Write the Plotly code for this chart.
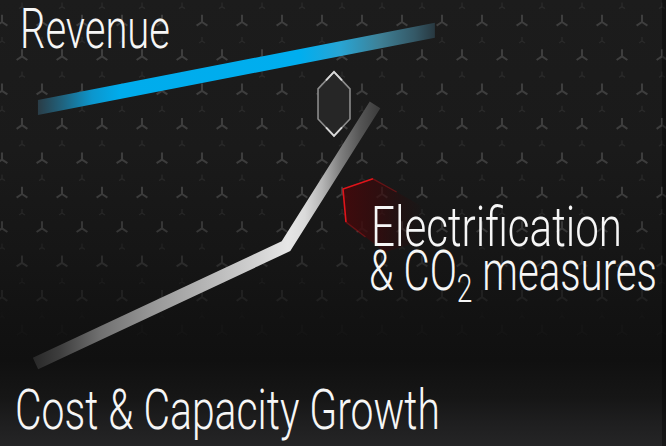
import numpy as np
import plotly.graph_objects as go

# Canvas and plotting space (0..100 on both axes, y pointing up)
W, H = 666, 446
SX, SY = W / 100.0, H / 100.0

# ---- series -------------------------------------------------------------
revenue_x = [5.7, 65.3]
revenue_y = [75.9, 93.2]

cost_x = [5.33, 42.94, 56.31]
cost_y = [18.5, 44.8, 76.5]

# gap marker between the two curves (centre, width, height)
gap_x, gap_y = 50.15, 76.7
gap_w, gap_h = 4.8, 14.35

# electrification wedge outline
wedge_x = [51.5, 56.0, 63.1, 63.8, 57.8, 51.95]
wedge_y = [57.6, 59.9, 54.0, 46.2, 43.5, 50.2]

label_revenue = "Revenue"
label_cost = "Cost &amp; Capacity Growth"
label_elec_1 = "Electrification"
label_elec_2 = "&amp; CO<sub>2</sub> measures"

FONT = "Roboto, Liberation Sans, sans-serif"


def to_px(x, y):
    return np.asarray(x, float) * SX, H - np.asarray(y, float) * SY


def to_data(px, py):
    return np.asarray(px, float) / SX, (H - np.asarray(py, float)) / SY


def scale_from(stops, lo, hi):
    """Colour stops given at pixel positions -> a 0..1 colorscale."""
    out = []
    for p, c in stops:
        f = min(1.0, max(0.0, (p - lo) / (hi - lo)))
        if out and f <= out[-1][0]:
            continue
        out.append([f, c])
    out[0][0] = 0.0
    out[-1][0] = 1.0
    return out


def band(xs, ys, width, vertical_ends=False):
    """Polygon of a thick polyline, computed in pixel space."""
    px, py = to_px(xs, ys)
    P = np.column_stack([px, py])
    d = np.diff(P, axis=0)
    d /= np.linalg.norm(d, axis=1)[:, None]
    nrm = np.column_stack([-d[:, 1], d[:, 0]])
    h = width / 2.0
    top, bot = [], []
    for i in range(len(P)):
        if vertical_ends:
            off = np.array([0.0, -h])
        elif i == 0:
            off = nrm[0] * h
        elif i == len(P) - 1:
            off = nrm[-1] * h
        else:
            m = nrm[i - 1] + nrm[i]
            m /= np.linalg.norm(m)
            off = m * h / np.dot(m, nrm[i])
        top.append(P[i] + off)
        bot.append(P[i] - off)
    poly = np.array(top + bot[::-1] + [top[0]])
    return to_data(poly[:, 0], poly[:, 1])


fig = go.Figure()

# ---- background -----------------------------------------------------------
bg_stops = [
    (446, "#252526"), (425, "#1f1f20"), (398, "#161616"), (360, "#101010"),
    (320, "#121212"), (250, "#161616"), (150, "#1a1a1a"), (0, "#1c1c1c"),
]
fig.add_trace(go.Scatter(
    x=[0, 100, 100, 0, 0], y=[0, 0, 100, 100, 0], mode="none", fill="toself",
    fillgradient=dict(type="vertical",
                      colorscale=scale_from([(H - p, c) for p, c in bg_stops], 0, H)),
    hoverinfo="skip"))

# star texture
big_x, big_y, big_c, sm_x, sm_y, sm_c = [], [], [], [], [], []


def fade(py):
    if py < 210:
        return 1.0
    return max(0.0, 1.0 - (py - 210) / 135.0)


for j in range(-1, 11):
    ry = 22 + 34.4 * j
    x0 = 2 if j % 2 == 0 else 22
    for k in range(-1, 18):
        rx = x0 + 40 * k
        a = fade(ry)
        if a > 0 and -10 < ry < H:
            big_x.append(rx); big_y.append(ry)
            big_c.append(f"rgba(125,125,125,{0.36 * a:.3f})")
        sy = ry + 19
        a2 = fade(sy)
        if a2 > 0 and -10 < sy < H:
            sm_x.append(rx); sm_y.append(sy)
            sm_c.append(f"rgba(120,120,120,{0.16 * a2:.3f})")

bx, by = to_data(big_x, big_y)
fig.add_trace(go.Scatter(
    x=bx, y=by, mode="markers", hoverinfo="skip",
    marker=dict(symbol="y-up-open", size=9, color=big_c,
                line=dict(width=2, color=big_c))))
sx, sy = to_data(sm_x, sm_y)
fig.add_trace(go.Scatter(
    x=sx, y=sy, mode="markers", hoverinfo="skip",
    marker=dict(symbol="y-up-open", size=5, color=sm_c,
                line=dict(width=1.4, color=sm_c))))

# thin dark strip at the right edge
fig.add_shape(type="rect", xref="x", yref="y", x0=(W - 4) / SX, x1=100,
              y0=0, y1=100, line_width=0, fillcolor="rgba(0,0,0,0.35)")

# ---- revenue band ---------------------------------------------------------
rx_, ry_ = band(revenue_x, revenue_y, 15, vertical_ends=True)
rpx = rx_ * SX
rev_stops = [(38, "rgb(42,60,70)"), (62, "rgb(32,98,125)"), (92, "rgb(12,150,205)"),
             (120, "rgb(0,172,236)"), (300, "rgb(0,174,239)"), (340, "rgb(40,165,212)"),
             (380, "rgb(62,128,150)"), (415, "rgb(52,88,102)"), (435, "rgb(40,56,64)")]
fig.add_trace(go.Scatter(
    x=rx_, y=ry_, mode="none", fill="toself", hoverinfo="skip",
    fillgradient=dict(type="horizontal",
                      colorscale=scale_from(rev_stops, rpx.min(), rpx.max()))))

# ---- gap marker (hexagon) -------------------------------------------------
hx = [gap_x, gap_x + gap_w / 2, gap_x + gap_w / 2, gap_x,
      gap_x - gap_w / 2, gap_x - gap_w / 2, gap_x]
hy = [gap_y + gap_h / 2, gap_y + gap_h * 0.235, gap_y - gap_h * 0.235,
      gap_y - gap_h / 2, gap_y - gap_h * 0.235, gap_y + gap_h * 0.235,
      gap_y + gap_h / 2]
fig.add_trace(go.Scatter(x=hx, y=hy, mode="lines", fill="toself",
                         fillcolor="#262626", hoverinfo="skip",
                         line=dict(color="#8c8c8c", width=1.6)))
# brighter tips
for i0, prv, nxt in ((0, 5, 1), (3, 2, 4)):
    fig.add_trace(go.Scatter(
        x=[(hx[i0] + hx[prv]) / 2, hx[i0], (hx[i0] + hx[nxt]) / 2],
        y=[(hy[i0] + hy[prv]) / 2, hy[i0], (hy[i0] + hy[nxt]) / 2],
        mode="lines", hoverinfo="skip", line=dict(color="#d8d8d8", width=1.8)))

# ---- electrification wedge -----------------------------------------------
wx = wedge_x + [wedge_x[0]]
wy = wedge_y + [wedge_y[0]]
fig.add_trace(go.Scatter(
    x=wx, y=wy, mode="none", fill="toself", hoverinfo="skip",
    fillgradient=dict(type="horizontal", colorscale=[
        [0, "rgba(66,10,12,0.95)"], [0.45, "rgba(55,10,12,0.7)"],
        [1, "rgba(40,10,10,0.0)"]])))
fig.add_trace(go.Scatter(
    x=[wedge_x[5], wedge_x[0], wedge_x[1]], y=[wedge_y[5], wedge_y[0], wedge_y[1]],
    mode="lines", hoverinfo="skip", line=dict(color="#e0141a", width=1.6)))
fig.add_trace(go.Scatter(
    x=[wedge_x[1], (wedge_x[1] + wedge_x[2]) / 2], y=[wedge_y[1], (wedge_y[1] + wedge_y[2]) / 2],
    mode="lines", hoverinfo="skip", line=dict(color="rgba(200,20,25,0.4)", width=1.4)))
fig.add_trace(go.Scatter(
    x=[wedge_x[5], (wedge_x[5] + wedge_x[4]) / 2], y=[wedge_y[5], (wedge_y[5] + wedge_y[4]) / 2],
    mode="lines", hoverinfo="skip", line=dict(color="rgba(200,20,25,0.4)", width=1.4)))

# ---- cost band ------------------------------------------------------------
cx_, cy_ = band(cost_x, cost_y, 12.5)
cpx = cx_ * SX
c0, c1 = cpx.min(), cpx.max()
cost_stops = [(c0, "rgb(40,40,40)"), (60, "rgb(62,62,62)"), (100, "rgb(112,112,112)"),
              (150, "rgb(150,150,150)"), (200, "rgb(178,178,178)"), (250, "rgb(206,206,206)"),
              (288, "rgb(230,230,230)"), (305, "rgb(218,218,218)"), (322, "rgb(182,182,182)"),
              (340, "rgb(128,128,128)"), (360, "rgb(86,86,86)"), (c1, "rgb(58,58,58)")]
fig.add_trace(go.Scatter(
    x=cx_, y=cy_, mode="none", fill="toself", hoverinfo="skip",
    fillgradient=dict(type="horizontal", colorscale=scale_from(cost_stops, c0, c1))))


# ---- labels ---------------------------------------------------------------
# (text, left px, vertical centre px, drawn width px)
labels = [
    (label_revenue, 19, 29, 150),
    (label_cost, 14, 410, 425),
    (label_elec_1, 370, 227, 251),
    (label_elec_2, 368, 275, 288),
]
for text, px, py_mid, _ in labels:
    x, y = to_data(px, py_mid)
    fig.add_annotation(x=float(x), y=float(y), xref="x", yref="y", text=text,
                       showarrow=False, xanchor="left", yanchor="middle",
                       borderpad=0,
                       font=dict(family=FONT, size=56, weight=300, color="#f6f6f6"))

fig.update_layout(
    width=W, height=H, margin=dict(l=0, r=0, t=0, b=0),
    paper_bgcolor="#1b1b1b", plot_bgcolor="#1b1b1b", showlegend=False,
    xaxis=dict(range=[0, 100], visible=False, fixedrange=True),
    yaxis=dict(range=[0, 100], visible=False, fixedrange=True),
)

# condensed lettering: squeeze each label horizontally about its left edge
widths = ",".join(str(w) for *_, w in labels)
condense_js = """
var gd = document.getElementById('{plot_id}');
var widths = [%s];
gd.querySelectorAll('.annotation').forEach(function (g) {
  var i = +g.getAttribute('data-index');
  var t = g.querySelector('.annotation-text');
  if (!t || isNaN(i)) return;
  var bb = t.getBBox();
  var s = widths[i] / bb.width;
  t.setAttribute('transform', 'translate(' + bb.x + ',0) scale(' + s + ',1) translate(' + (-bb.x) + ',0)');
});
""" % widths

fig.write_html("out.html", post_script=condense_js)
